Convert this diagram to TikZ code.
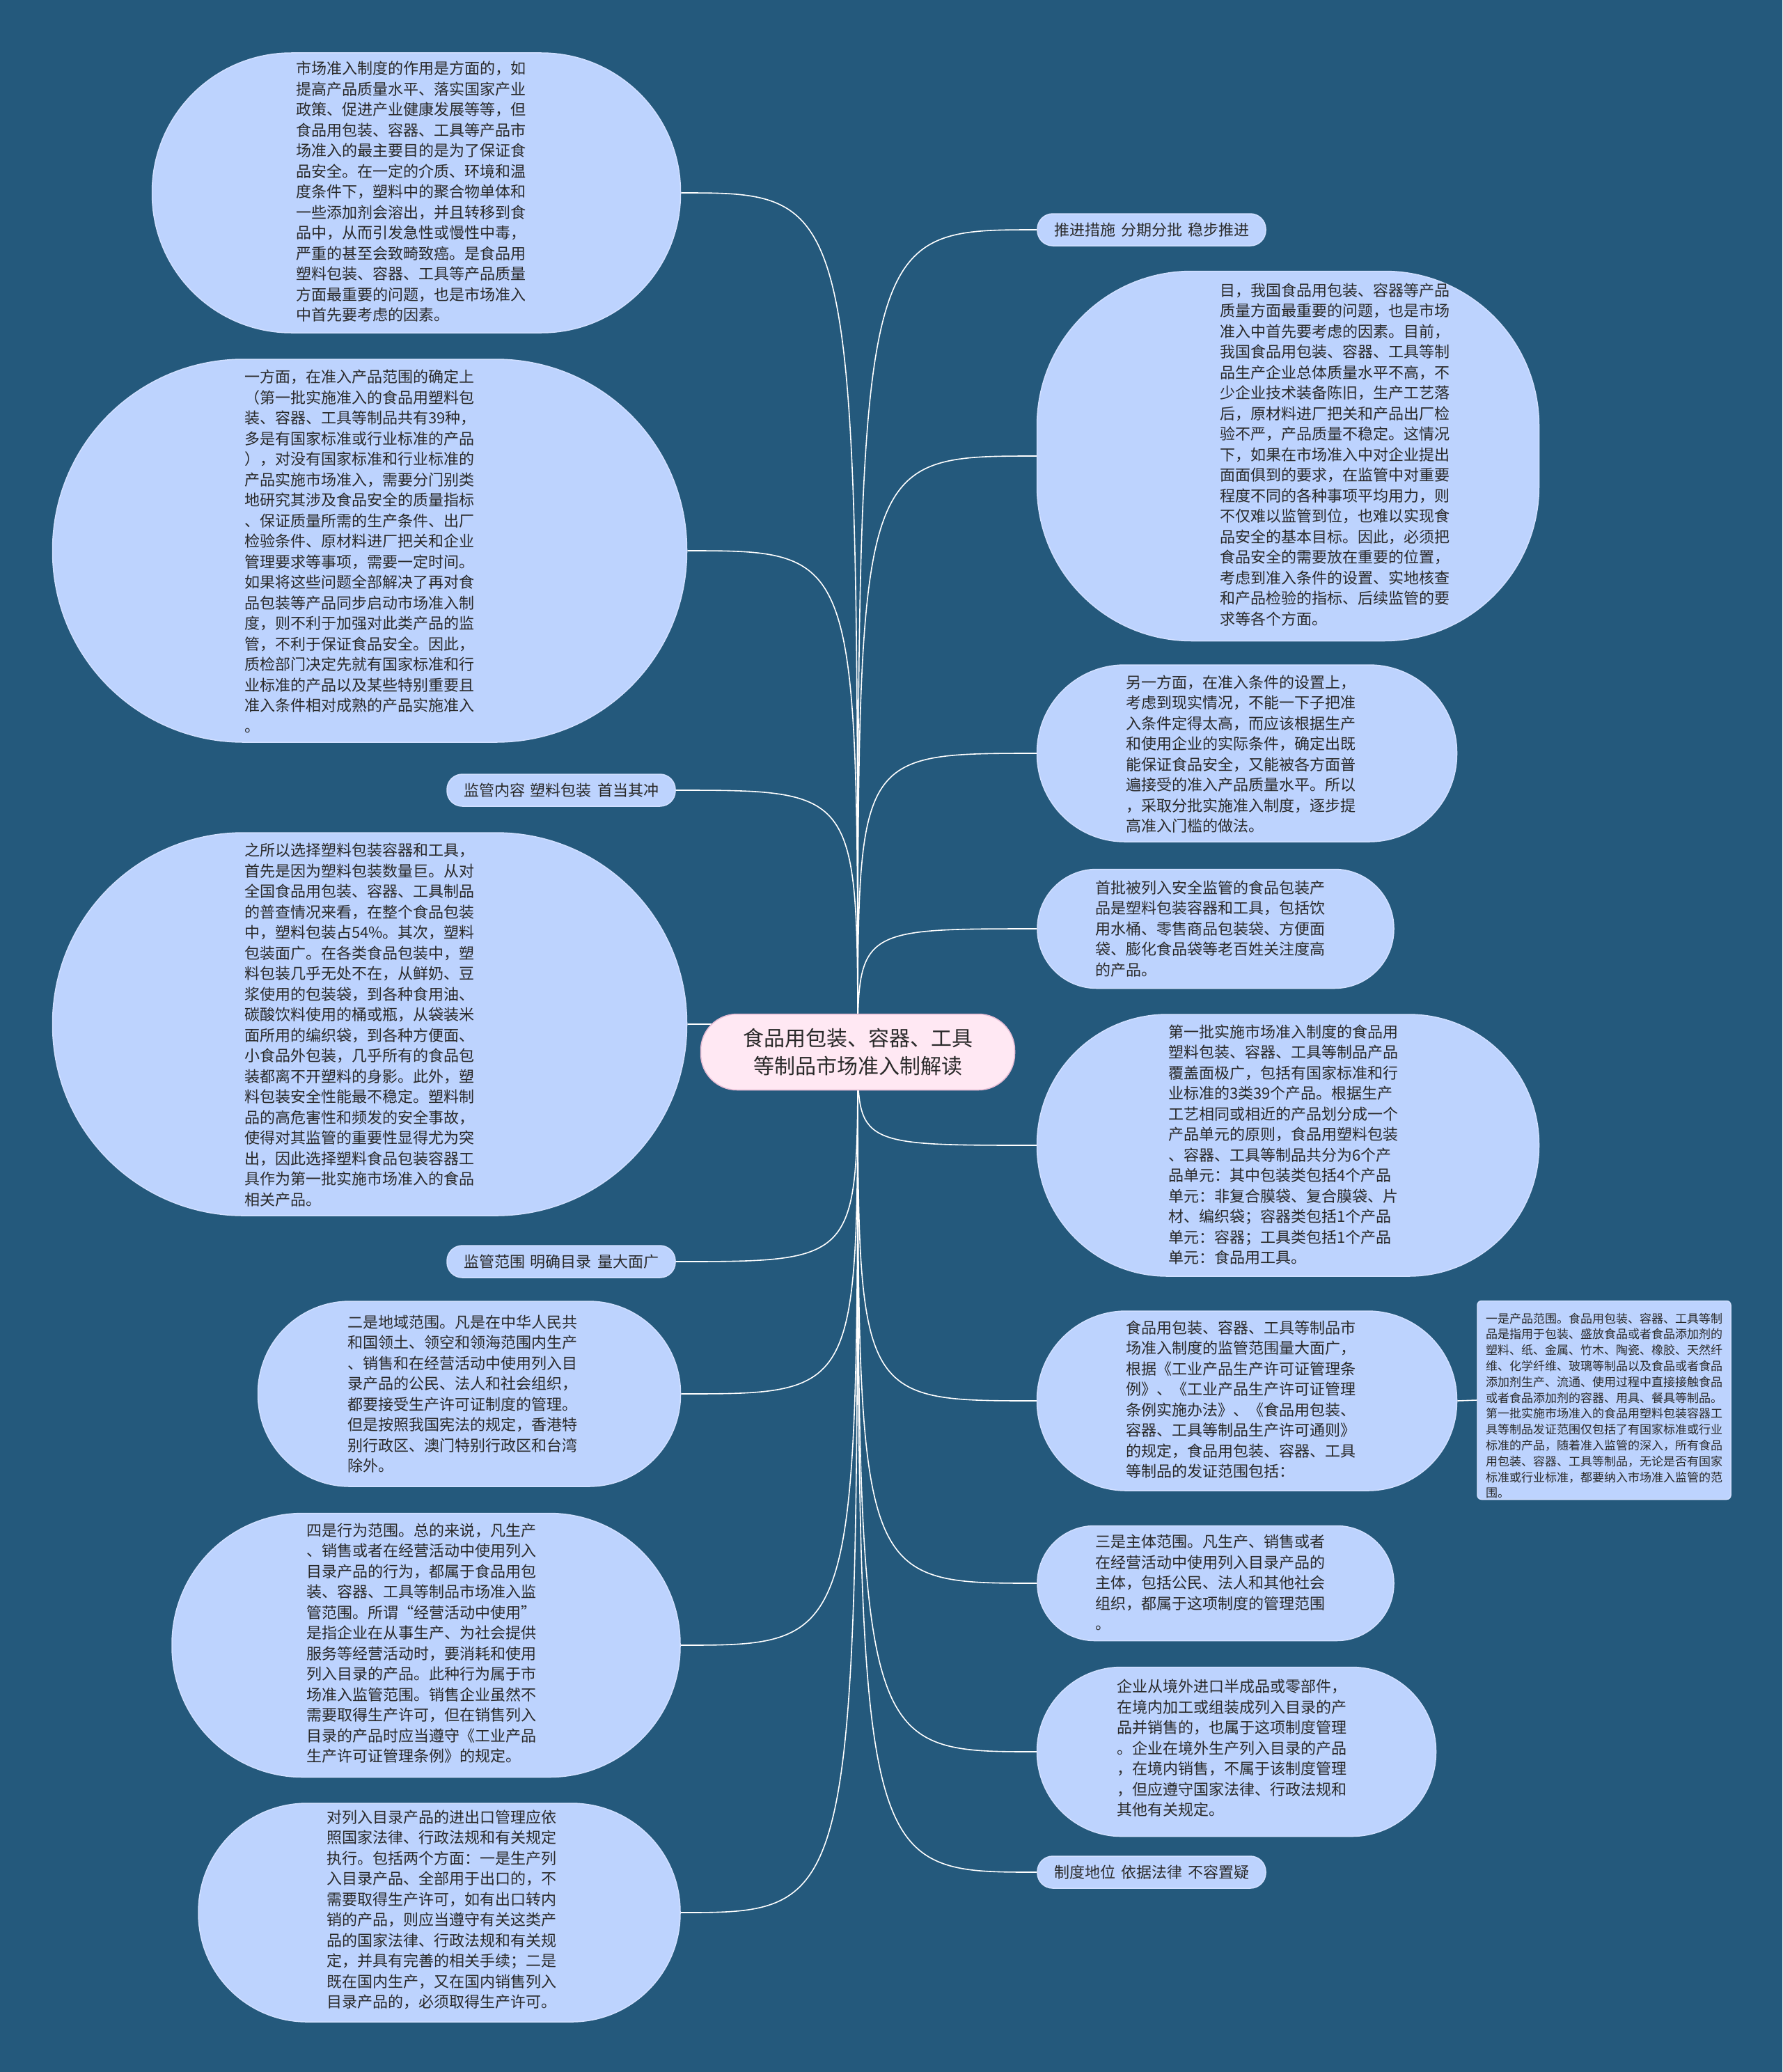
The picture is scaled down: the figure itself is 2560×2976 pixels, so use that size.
\documentclass[tikz,border=0pt]{standalone}
\usepackage{fontspec}
\setmainfont{Noto Sans CJK SC}
\usetikzlibrary{calc}
\definecolor{bgc}{HTML}{24597C}
\definecolor{bub}{HTML}{BDD3FE}
\definecolor{bubline}{HTML}{D2E0FF}
\definecolor{txt}{HTML}{2A2A2A}
\definecolor{rootfill}{HTML}{FFE8F3}
\definecolor{rootline}{HTML}{E6BCD3}
\pgfdeclarelayer{bglayer}
\pgfdeclarelayer{edgelayer}
\pgfsetlayers{bglayer,edgelayer,main}
\newcommand{\gap}{\hspace{8pt}}
\tikzset{
  bubble/.style={draw=bubline, line width=1.5pt, fill=bub, inner sep=0pt},
  btext/.style={anchor=west, align=left, inner sep=0pt, text=txt, font=\fontsize{22}{29.5}\selectfont},
  stext/.style={anchor=west, align=left, inner sep=0pt, text=txt, font=\fontsize{17}{22.8}\selectfont},
  tagbox/.style={bubble, rounded corners=22pt, minimum width=328pt, minimum height=46pt, text=txt, font=\fontsize{22}{26}\selectfont},
  link/.style={draw=white, line width=1.6pt},
}
\begin{document}
\begin{tikzpicture}[x=1pt,y=-1pt]
\useasboundingbox (0,0) rectangle (2560,2976);
\begin{pgfonlayer}{bglayer}
\fill[bgc] (0,0) rectangle (2560,2976);
\end{pgfonlayer}

% root
\node[draw=rootline, line width=1.5pt, fill=rootfill, rounded corners=52pt, minimum width=451pt, minimum height=109pt, inner sep=0pt, align=center, text=txt, font=\fontsize{30}{40}\selectfont] (C) at (1232,1511) {食品用包装、容器、工具\\等制品市场准入制解读};

% left side bubbles
\node[bubble, minimum width=759pt, minimum height=402pt, rounded corners=200pt] (L1) at (598,277) {};
\node[btext] (L1t) at (425,275.5) {市场准入制度的作用是方面的，如\\
提高产品质量水平、落实国家产业\\
政策、促进产业健康发展等等，但\\
食品用包装、容器、工具等产品市\\
场准入的最主要目的是为了保证食\\
品安全。在一定的介质、环境和温\\
度条件下，塑料中的聚合物单体和\\
一些添加剂会溶出，并且转移到食\\
品中，从而引发急性或慢性中毒，\\
严重的甚至会致畸致癌。是食品用\\
塑料包装、容器、工具等产品质量\\
方面最重要的问题，也是市场准入\\
中首先要考虑的因素。};

\node[bubble, minimum width=911pt, minimum height=550pt, rounded corners=274pt] (L2) at (531,791) {};
\node[btext] (L2t) at (351,792) {一方面，在准入产品范围的确定上\\
（第一批实施准入的食品用塑料包\\
装、容器、工具等制品共有39种，\\
多是有国家标准或行业标准的产品\\
），对没有国家标准和行业标准的\\
产品实施市场准入，需要分门别类\\
地研究其涉及食品安全的质量指标\\
、保证质量所需的生产条件、出厂\\
检验条件、原材料进厂把关和企业\\
管理要求等事项，需要一定时间。\\
如果将这些问题全部解决了再对食\\
品包装等产品同步启动市场准入制\\
度，则不利于加强对此类产品的监\\
管，不利于保证食品安全。因此，\\
质检部门决定先就有国家标准和行\\
业标准的产品以及某些特别重要且\\
准入条件相对成熟的产品实施准入\\
。};

\node[tagbox] (LC) at (806,1135) {监管内容\gap 塑料包装\gap 首当其冲};

\node[bubble, minimum width=911pt, minimum height=550pt, rounded corners=274pt] (L3) at (531,1471) {};
\node[btext] (L3t) at (351,1472) {之所以选择塑料包装容器和工具，\\
首先是因为塑料包装数量巨。从对\\
全国食品用包装、容器、工具制品\\
的普查情况来看，在整个食品包装\\
中，塑料包装占54\%。其次，塑料\\
包装面广。在各类食品包装中，塑\\
料包装几乎无处不在，从鲜奶、豆\\
浆使用的包装袋，到各种食用油、\\
碳酸饮料使用的桶或瓶，从袋装米\\
面所用的编织袋，到各种方便面、\\
小食品外包装，几乎所有的食品包\\
装都离不开塑料的身影。此外，塑\\
料包装安全性能最不稳定。塑料制\\
品的高危害性和频发的安全事故，\\
使得对其监管的重要性显得尤为突\\
出，因此选择塑料食品包装容器工\\
具作为第一批实施市场准入的食品\\
相关产品。};

\node[tagbox] (LR) at (806,1812) {监管范围\gap 明确目录\gap 量大面广};

\node[bubble, minimum width=607pt, minimum height=266pt, rounded corners=132pt] (L4) at (674,2002) {};
\node[btext] (L4t) at (499,2002) {二是地域范围。凡是在中华人民共\\
和国领土、领空和领海范围内生产\\
、销售和在经营活动中使用列入目\\
录产品的公民、法人和社会组织，\\
都要接受生产许可证制度的管理。\\
但是按照我国宪法的规定，香港特\\
别行政区、澳门特别行政区和台湾\\
除外。};

\node[bubble, minimum width=730pt, minimum height=379pt, rounded corners=188pt] (L5) at (612,2363) {};
\node[btext] (L5t) at (440,2360) {四是行为范围。总的来说，凡生产\\
、销售或者在经营活动中使用列入\\
目录产品的行为，都属于食品用包\\
装、容器、工具等制品市场准入监\\
管范围。所谓“经营活动中使用”\\
是指企业在从事生产、为社会提供\\
服务等经营活动时，要消耗和使用\\
列入目录的产品。此种行为属于市\\
场准入监管范围。销售企业虽然不\\
需要取得生产许可，但在销售列入\\
目录的产品时应当遵守《工业产品\\
生产许可证管理条例》的规定。};

\node[bubble, minimum width=692pt, minimum height=314pt, rounded corners=156pt] (L6) at (631,2747) {};
\node[btext] (L6t) at (469,2743) {对列入目录产品的进出口管理应依\\
照国家法律、行政法规和有关规定\\
执行。包括两个方面：一是生产列\\
入目录产品、全部用于出口的，不\\
需要取得生产许可，如有出口转内\\
销的产品，则应当遵守有关这类产\\
品的国家法律、行政法规和有关规\\
定，并具有完善的相关手续；二是\\
既在国内生产，又在国内销售列入\\
目录产品的，必须取得生产许可。};

% right side
\node[tagbox] (R0) at (1654,330) {推进措施\gap 分期分批\gap 稳步推进};

\node[bubble, minimum width=721pt, minimum height=531pt, rounded corners=222pt] (R1) at (1850,655) {};
\node[btext] (R1t) at (1752,653) {目，我国食品用包装、容器等产品\\
质量方面最重要的问题，也是市场\\
准入中首先要考虑的因素。目前，\\
我国食品用包装、容器、工具等制\\
品生产企业总体质量水平不高，不\\
少企业技术装备陈旧，生产工艺落\\
后，原材料进厂把关和产品出厂检\\
验不严，产品质量不稳定。这情况\\
下，如果在市场准入中对企业提出\\
面面俱到的要求，在监管中对重要\\
程度不同的各种事项平均用力，则\\
不仅难以监管到位，也难以实现食\\
品安全的基本目标。因此，必须把\\
食品安全的需要放在重要的位置，\\
考虑到准入条件的设置、实地核查\\
和产品检验的指标、后续监管的要\\
求等各个方面。};

\node[bubble, minimum width=603pt, minimum height=254pt, rounded corners=126pt] (R2) at (1791,1082) {};
\node[btext] (R2t) at (1617,1083) {另一方面，在准入条件的设置上，\\
考虑到现实情况，不能一下子把准\\
入条件定得太高，而应该根据生产\\
和使用企业的实际条件，确定出既\\
能保证食品安全，又能被各方面普\\
遍接受的准入产品质量水平。所以\\
，采取分批实施准入制度，逐步提\\
高准入门槛的做法。};

\node[bubble, minimum width=512pt, minimum height=171pt, rounded corners=85pt] (R3) at (1746,1334) {};
\node[btext] (R3t) at (1573,1334) {首批被列入安全监管的食品包装产\\
品是塑料包装容器和工具，包括饮\\
用水桶、零售商品包装袋、方便面\\
袋、膨化食品袋等老百姓关注度高\\
的产品。};

\node[bubble, minimum width=721pt, minimum height=376pt, rounded corners=187pt] (R4) at (1850,1645) {};
\node[btext] (R4t) at (1678,1644) {第一批实施市场准入制度的食品用\\
塑料包装、容器、工具等制品产品\\
覆盖面极广，包括有国家标准和行\\
业标准的3类39个产品。根据生产\\
工艺相同或相近的产品划分成一个\\
产品单元的原则，食品用塑料包装\\
、容器、工具等制品共分为6个产\\
品单元：其中包装类包括4个产品\\
单元：非复合膜袋、复合膜袋、片\\
材、编织袋；容器类包括1个产品\\
单元：容器；工具类包括1个产品\\
单元：食品用工具。};

\node[bubble, minimum width=603pt, minimum height=258pt, rounded corners=128pt] (R5) at (1791,2012) {};
\node[btext] (R5t) at (1617,2010) {食品用包装、容器、工具等制品市\\
场准入制度的监管范围量大面广，\\
根据《工业产品生产许可证管理条\\
例》、《工业产品生产许可证管理\\
条例实施办法》、《食品用包装、\\
容器、工具等制品生产许可通则》\\
的规定，食品用包装、容器、工具\\
等制品的发证范围包括：};

\node[bubble, minimum width=364pt, minimum height=285pt, rounded corners=6pt] (R5a) at (2304,2011) {};
\node[stext] (R5at) at (2134,2019) {一是产品范围。食品用包装、容器、工具等制\\
品是指用于包装、盛放食品或者食品添加剂的\\
塑料、纸、金属、竹木、陶瓷、橡胶、天然纤\\
维、化学纤维、玻璃等制品以及食品或者食品\\
添加剂生产、流通、使用过程中直接接触食品\\
或者食品添加剂的容器、用具、餐具等制品。\\
第一批实施市场准入的食品用塑料包装容器工\\
具等制品发证范围仅包括了有国家标准或行业\\
标准的产品，随着准入监管的深入，所有食品\\
用包装、容器、工具等制品，无论是否有国家\\
标准或行业标准，都要纳入市场准入监管的范\\
围。};

\node[bubble, minimum width=512pt, minimum height=165pt, rounded corners=82pt] (R6) at (1746,2274) {};
\node[btext] (R6t) at (1573,2273) {三是主体范围。凡生产、销售或者\\
在经营活动中使用列入目录产品的\\
主体，包括公民、法人和其他社会\\
组织，都属于这项制度的管理范围\\
。};

\node[bubble, minimum width=573pt, minimum height=243pt, rounded corners=121pt] (R7) at (1776,2516) {};
\node[btext] (R7t) at (1604,2511) {企业从境外进口半成品或零部件，\\
在境内加工或组装成列入目录的产\\
品并销售的，也属于这项制度管理\\
。企业在境外生产列入目录的产品\\
，在境内销售，不属于该制度管理\\
，但应遵守国家法律、行政法规和\\
其他有关规定。};

\node[tagbox] (R8) at (1654,2689) {制度地位\gap 依据法律\gap 不容置疑};

% connectors
\begin{pgfonlayer}{edgelayer}
\foreach \n in {L1,L2,LC,L3,LR,L4,L5,L6}
  \draw[link] (C.center) .. controls (C.center |- \n.east) .. (\n.east);
\foreach \n in {R0,R1,R2,R3,R4,R5,R6,R7,R8}
  \draw[link] (C.center) .. controls (C.center |- \n.west) .. (\n.west);
\draw[link] (R5.east) -- (R5a.west);
\end{pgfonlayer}
\end{tikzpicture}
\end{document}
